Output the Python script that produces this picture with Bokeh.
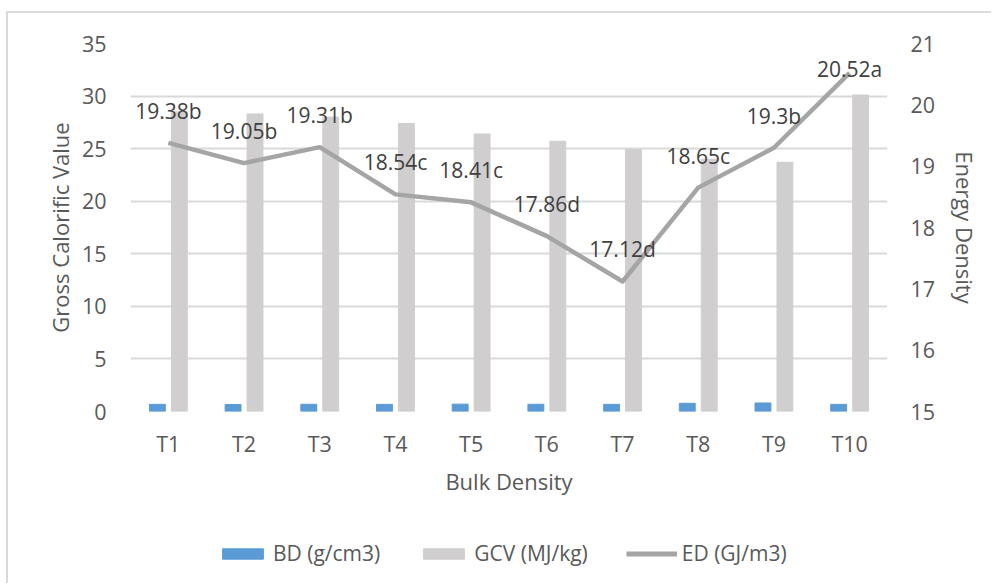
from bokeh.plotting import figure
from bokeh.layouts import column
from bokeh.models import (Range1d, LinearAxis, Legend, LegendItem, ColumnDataSource,
                          FixedTicker, InlineStyleSheet)
from bokeh.transform import dodge
from bokeh.core.properties import value
from bokeh.embed import file_html
from bokeh.resources import INLINE

treatments = ["T1", "T2", "T3", "T4", "T5", "T6", "T7", "T8", "T9", "T10"]
bd = [0.68, 0.67, 0.69, 0.68, 0.70, 0.69, 0.68, 0.78, 0.81, 0.68]
gcv = [28.5, 28.3, 28.0, 27.4, 26.4, 25.7, 24.9, 24.0, 23.7, 30.1]
ed = [19.38, 19.05, 19.31, 18.54, 18.41, 17.86, 17.12, 18.65, 19.30, 20.52]
ed_labels = ["19.38b", "19.05b", "19.31b", "18.54c", "18.41c", "17.86d",
             "17.12d", "18.65c", "19.3b", "20.52a"]
series_names = ["BD (g/cm3)", "GCV (MJ/kg)", "ED (GJ/m3)"]

FONT = "Open Sans"
TXT = "#595959"
GRID = "#d9d9d9"
C_BD = "#5b9bd5"
C_GCV = "#d0cece"
C_ED = "#a5a5a5"

ED_MIN, ED_MAX = 15, 21
FRAME_H = 368
label_off = []
for v in ed:
    py = (ED_MAX - v) / (ED_MAX - ED_MIN) * FRAME_H
    label_off.append(-32 if py - 32 > 8 else -4)

src = ColumnDataSource(dict(t=treatments, bd=bd, gcv=gcv, ed=ed, lab=ed_labels, off=label_off))

p = figure(x_range=treatments, y_range=Range1d(0, 35), frame_width=757, frame_height=FRAME_H,
           output_backend="svg", toolbar_location=None,
           min_border_left=122, min_border_right=106, min_border_top=30, min_border_bottom=100)
p.outline_line_color = None
p.background_fill_color = "white"
p.border_fill_color = "white"

p.extra_y_ranges = {"ed": Range1d(ED_MIN, ED_MAX)}

p.vbar(x=dodge("t", -0.145, range=p.x_range), top="bd", width=0.21, source=src, color=C_BD)
p.vbar(x=dodge("t", 0.145, range=p.x_range), top="gcv", width=0.21, source=src, color=C_GCV)
p.line(x="t", y="ed", source=src, y_range_name="ed", line_color=C_ED,
       line_width=4.5, line_join="round")
p.text(x="t", y="ed", text="lab", source=src, y_range_name="ed", y_offset="off",
       text_align="center", text_baseline="middle", text_color="#404040",
       text_font=value(FONT), text_font_size="21px")

# axes
p.xaxis.axis_label = "Bulk Density"
p.yaxis.axis_label = "Gross Calorific Value"
p.yaxis.ticker = FixedTicker(ticks=[0, 5, 10, 15, 20, 25, 30, 35])
ax2 = LinearAxis(y_range_name="ed", axis_label="Energy Density",
                 ticker=FixedTicker(ticks=[15, 16, 17, 18, 19, 20, 21]))
p.add_layout(ax2, "right")

for ax in [p.xaxis[0], p.yaxis[0], ax2]:
    ax.axis_line_color = None
    ax.major_tick_line_color = None
    ax.minor_tick_line_color = None
    ax.major_label_text_color = TXT
    ax.major_label_text_font = FONT
    ax.major_label_text_font_size = "21.5px"
    ax.axis_label_text_color = TXT
    ax.axis_label_text_font = FONT
    ax.axis_label_text_font_size = "22px"
    ax.axis_label_text_font_style = "normal"
p.yaxis[0].major_label_standoff = 18
p.yaxis[0].axis_label_standoff = 4
ax2.major_label_standoff = 17
ax2.axis_label_standoff = 12
p.xaxis[0].major_label_standoff = 11
p.xaxis[0].axis_label_standoff = 5

p.xgrid.grid_line_color = None
p.ygrid.grid_line_color = GRID
p.ygrid.grid_line_width = 2

# legend strip (separate figure so the legend is not clipped by the main frame)
lg = figure(width=985, height=74, x_range=Range1d(0, 1), y_range=Range1d(0, 1),
            output_backend="svg", toolbar_location=None,
            x_axis_location=None, y_axis_location=None, min_border=0)
lg.outline_line_color = None
lg.xgrid.grid_line_color = None
lg.ygrid.grid_line_color = None
lg.border_fill_color = "white"
# swatch-only renderers placed outside the visible range
r_bd = lg.vbar(x=[-5], bottom=[-5], top=[-4], width=0.1, color=C_BD)
r_gcv = lg.vbar(x=[-5], bottom=[-5], top=[-4], width=0.1, color=C_GCV)
r_ed = lg.line(x=[-5, -4], y=[-5, -5], line_color=C_ED, line_width=5)

legend = Legend(items=[LegendItem(label=series_names[0], renderers=[r_bd]),
                       LegendItem(label=series_names[1], renderers=[r_gcv]),
                       LegendItem(label=series_names[2], renderers=[r_ed])],
                orientation="horizontal", location=(87, 18),
                glyph_width=51, glyph_height=13, label_standoff=5, spacing=38,
                label_text_font=FONT, label_text_font_size="21px", label_text_color=TXT,
                border_line_color=None, background_fill_alpha=0, margin=0, padding=0)
lg.add_layout(legend, "center")

page = column(p, lg, spacing=0)
page.margin = (13, 0, 0, 8)
page.stylesheets = [InlineStyleSheet(css=":host { box-shadow: -2px -2px 0 0 #d9d9d9; }")]

open("out.html", "w").write(file_html(page, INLINE))
